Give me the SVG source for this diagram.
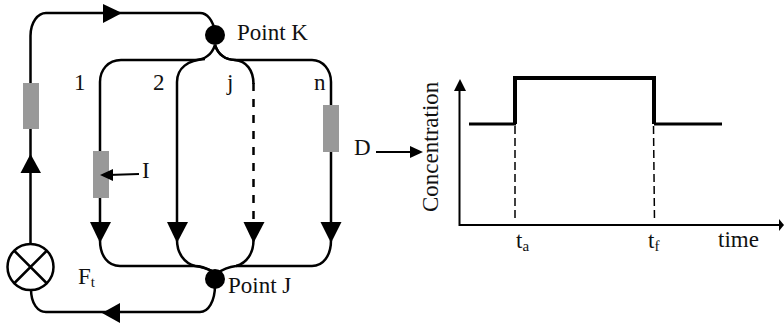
<svg xmlns="http://www.w3.org/2000/svg" width="784" height="325" viewBox="0 0 784 325">
<style>
.w{fill:none;stroke:#000;stroke-width:2.5}
.d{stroke-dasharray:8 8}
.h{fill:#000;stroke:none}
.g{fill:#999;stroke:none}
.a{fill:none;stroke:#000;stroke-width:2}
.p{fill:none;stroke:#000;stroke-width:3}
.q{fill:none;stroke:#000;stroke-width:4}
.s{fill:none;stroke:#000;stroke-width:1.5;stroke-dasharray:8 4}
text{font-family:"Liberation Serif","Times New Roman",serif;font-size:23px;fill:#111}
.u{font-size:15px}
</style>
<rect width="784" height="325" fill="#fff"/>
<g id="point-k"><circle cx="215" cy="35" r="10"/><text x="237" y="40">Point K</text></g>
<g id="point-j"><circle cx="215" cy="279" r="10"/><text x="228" y="293">Point J</text></g>
<g id="source"><circle cx="30.500" cy="267" r="23" fill="#fff" stroke="#000" stroke-width="2.500"/><path class="w" d="M14 250.500L47 283.500M47 250.500L14 283.500"/></g>
<g id="resistor-main"><rect class="g" x="23" y="83" width="16" height="46"/></g>
<g id="resistor-i"><rect class="g" x="93" y="151" width="16" height="47"/></g>
<g id="resistor-n"><rect class="g" x="323" y="105" width="16" height="47"/></g>
<g id="connectors">
<path class="w" d="M30.500 244V129M30.500 83V36C30.500 22 38 13 46 13H200C207 13 213 20 215 32"/>
<path class="w" d="M215 45C212 54 205 60 195 60H121C108 60 100 70 100 82V151"/>
<path class="w" d="M205 59C188 60 177 68 177 82V224"/>
<path class="w" d="M215 45C218 54 225 60 235 60C246 61 253.500 70 253.500 84"/>
<path class="w d" d="M253.500 83V224"/>
<path class="w" d="M215 45C218 54 225 60 235 60H312C323 60 331 70 331 82V105M331 152V222"/>
<path class="w" d="M100 198V224"/>
<path class="w" d="M100 240C100 256 108 266 120 266H195C203 266 208 269 214 272"/>
<path class="w" d="M177 240C177 253 184 263 195 266C203 267 208 269 214 272"/>
<path class="w" d="M253.500 240C253.500 253 247 263 236 266C228 267 223 269 216 274"/>
<path class="w" d="M331 240C331 256 323 266 312 266H236"/>
<path class="w" d="M215 285C215 302 208 312 200 312H46C38 312 31 304 31 289"/>
<polygon class="h" points="103,4 122,13 103,23"/>
<polygon class="h" points="20.500,173 30.500,154 41,173"/>
<polygon class="h" points="90,222 111,222 100,243"/>
<polygon class="h" points="167,222 188,222 177,243"/>
<polygon class="h" points="243.500,222 264.500,222 253.500,243"/>
<polygon class="h" points="320.500,222 341.500,222 331,243"/>
<polygon class="h" points="120,303 120,323 102,313"/>
<path class="a" d="M139 174L108 175"/>
<polygon class="h" points="100,175 113,169 113,181"/>
<path class="a" d="M376 152H412"/>
<polygon class="h" points="423,152 410,146 410,158"/>
</g>
<g id="labels">
<text x="74" y="90">1</text><text x="153" y="90">2</text><text x="227" y="90">j</text><text x="314" y="90">n</text>
<text x="142" y="178">I</text><text x="354" y="155">D</text>
<text x="78" y="284">F<tspan class="u" dy="3">t</tspan></text>
</g>
<g id="chart">
<path class="a" d="M459.500 88V225H780"/>
<polygon class="h" points="460,79 466,91 454,91"/>
<polygon class="h" points="784,225 779,219 779,231"/>
<path class="p" d="M469 124H516M654 124H722"/>
<path class="q" d="M515 124V78H654V124"/>
<path class="s" d="M515 126V222M653.500 126L654.500 222"/>
<text transform="translate(438 212) rotate(-90)">Concentration</text>
<text x="516" y="248">t<tspan class="u" dy="3">a</tspan></text>
<text x="648" y="248">t<tspan class="u" dy="3">f</tspan></text>
<text x="718" y="247">time</text>
</g>
</svg>
